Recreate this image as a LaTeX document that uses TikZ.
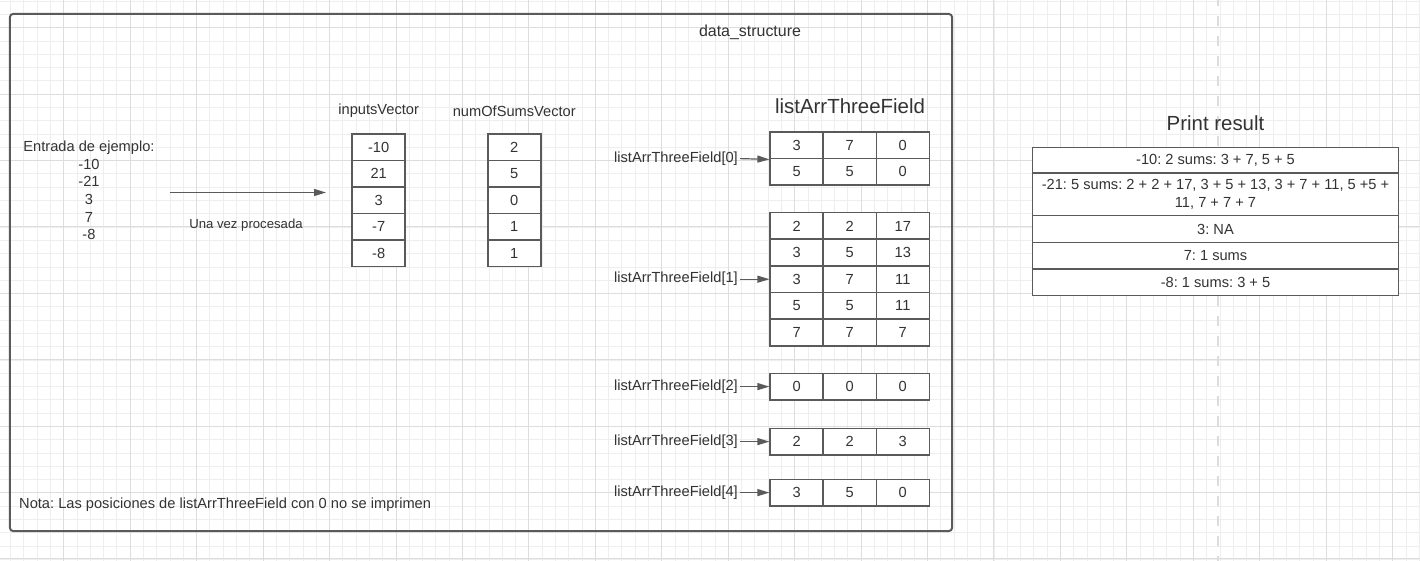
\documentclass[tikz,border=0pt]{standalone}
\usepackage{fontspec}
\setmainfont{Liberation Sans}
\usepackage{tikz}
\usetikzlibrary{arrows.meta}
\frenchspacing
\definecolor{linec}{HTML}{5A5A5A}
\definecolor{txtc}{HTML}{333333}
\definecolor{minorc}{HTML}{EEEEEE}
\definecolor{majorc}{HTML}{DDDDDD}
\definecolor{dashc}{HTML}{DCDCDC}
\tikzset{
every node/.style={inner sep=2bp, text=txtc, font=\fontsize{14.7}{17.6}\selectfont},
cell/.style={rectangle, draw=linec, fill=white, line width=1.6bp, minimum width=53bp, minimum height=26.6bp, inner sep=0pt},
prow/.style={rectangle, draw=linec, fill=white, line width=1.6bp, minimum width=366bp, inner sep=0pt, align=center},
ptr/.style={draw=linec, line width=1.2bp, -{Triangle[length=12bp,width=7bp]}},
minorgrid/.style={draw=minorc, line width=1bp},
majorgrid/.style={draw=majorc, line width=1bp},
bigtitle/.style={font=\fontsize{20.5}{24}\selectfont}
}

\begin{document}
\begin{tikzpicture}[x=1bp, y=-1bp]
\useasboundingbox (0,0) rectangle (1420,561);
\fill [white] (0,0) rectangle (1420,561);
\foreach \gx in {0,...,106} \draw [minorgrid] ({round(10.14+13.29*\gx)+0.5},0) -- ++(0,561);
\foreach \gy in {0,...,42} \draw [minorgrid] (0,{round(0.72+13.29*\gy)+0.5}) -- ++(1420,0);
\foreach \gx in {0,...,20} \draw [majorgrid] ({round(63.3+66.44*\gx)+0.5},0) -- ++(0,561);
\foreach \gy in {0,...,8} \draw [majorgrid] (0,{round(27.3+66.4*\gy)+0.5}) -- ++(1420,0);
\draw [draw=dashc, line width=2.5bp, dash pattern=on 10bp off 10bp, dash phase=4bp] (1218,0) -- (1218,561);

\node [draw=linec, line width=2bp, rounded corners=3bp, minimum width=942bp, minimum height=517bp, inner sep=0pt] (dsBox) at (481,272.5) {};
\node [font=\fontsize{16}{19}\selectfont] (dsTitle) at (750,32) {data\_structure};

\node [align=center] (entrada) at (89,190.5) {Entrada de ejemplo:\\-10\\-21\\3\\7\\-8};
\coordinate (procA) at (170,192.5);
\coordinate (procB) at (326,192.5);
\draw [ptr] (procA) -- (procB);
\node [font=\fontsize{13.2}{16}\selectfont] (procLbl) at (246,225) {Una vez procesada};

\node (inTitle) at (378.7,111) {inputsVector};
\node [cell] (in1) at (378.7,147.25) {-10};
\node [cell] (in2) at (378.7,173.75) {21};
\node [cell] (in3) at (378.7,200.25) {3};
\node [cell] (in4) at (378.7,226.75) {-7};
\node [cell] (in5) at (378.7,253.25) {-8};

\node (nsTitle) at (514.3,111) {numOfSumsVector};
\node [cell] (ns1) at (514.3,147.25) {2};
\node [cell] (ns2) at (514.3,173.75) {5};
\node [cell] (ns3) at (514.3,200.25) {0};
\node [cell] (ns4) at (514.3,226.75) {1};
\node [cell] (ns5) at (514.3,253.25) {1};

\node [bigtitle] (laTitle) at (850,106) {listArrThreeField};
\node [cell] (L01a) at (796.7,145.3) {3};
\node [cell] (L01b) at (849.8,145.3) {7};
\node [cell] (L01c) at (902.8,145.3) {0};
\node [cell] (L02a) at (796.7,171.9) {5};
\node [cell] (L02b) at (849.8,171.9) {5};
\node [cell] (L02c) at (902.8,171.9) {0};

\node [cell] (L11a) at (796.7,226) {2};
\node [cell] (L11b) at (849.8,226) {2};
\node [cell] (L11c) at (902.8,226) {17};
\node [cell] (L12a) at (796.7,252.6) {3};
\node [cell] (L12b) at (849.8,252.6) {5};
\node [cell] (L12c) at (902.8,252.6) {13};
\node [cell] (L13a) at (796.7,279.2) {3};
\node [cell] (L13b) at (849.8,279.2) {7};
\node [cell] (L13c) at (902.8,279.2) {11};
\node [cell] (L14a) at (796.7,305.8) {5};
\node [cell] (L14b) at (849.8,305.8) {5};
\node [cell] (L14c) at (902.8,305.8) {11};
\node [cell] (L15a) at (796.7,332.4) {7};
\node [cell] (L15b) at (849.8,332.4) {7};
\node [cell] (L15c) at (902.8,332.4) {7};

\node [cell] (L21a) at (796.7,386.6) {0};
\node [cell] (L21b) at (849.8,386.6) {0};
\node [cell] (L21c) at (902.8,386.6) {0};

\node [cell] (L31a) at (796.7,441.6) {2};
\node [cell] (L31b) at (849.8,441.6) {2};
\node [cell] (L31c) at (902.8,441.6) {3};

\node [cell] (L41a) at (796.7,492.6) {3};
\node [cell] (L41b) at (849.8,492.6) {5};
\node [cell] (L41c) at (902.8,492.6) {0};

\node [anchor=east] (lab0) at (740,158.6) {listArrThreeField[0]};
\node [anchor=east] (lab1) at (740,279.2) {listArrThreeField[1]};
\node [anchor=east] (lab2) at (740,386.6) {listArrThreeField[2]};
\node [anchor=east] (lab3) at (740,441.6) {listArrThreeField[3]};
\node [anchor=east] (lab4) at (740,492.6) {listArrThreeField[4]};

\draw [ptr] (lab0.east) -- (L01a.south west);
\draw [ptr] (lab1.east) -- (L13a.west);
\draw [ptr] (lab2.east) -- (L21a.west);
\draw [ptr] (lab3.east) -- (L31a.west);
\draw [ptr] (lab4.east) -- (L41a.west);

\node [anchor=west, inner sep=0pt] (nota) at (19,505) {Nota: Las posiciones de listArrThreeField con 0 no se imprimen};

\node [bigtitle] (prTitle) at (1215.5,123) {Print result};
\node [prow, minimum height=25.6bp] (pr1) at (1215.5,160.5) {-10: 2 sums: 3 + 7, 5 + 5};
\node [prow, minimum height=42.4bp] (pr2) at (1215.5,194.5) {-21: 5 sums: 2 + 2 + 17, 3 + 5 + 13, 3 + 7 + 11, 5 +5 +\\11, 7 + 7 + 7};
\node [prow, minimum height=27bp] (pr3) at (1215.5,229.2) {3: NA};
\node [prow, minimum height=26.3bp] (pr4) at (1215.5,255.85) {7: 1 sums};
\node [prow, minimum height=26.3bp] (pr5) at (1215.5,282.15) {-8: 1 sums: 3 + 5};
\end{tikzpicture}
\end{document}
